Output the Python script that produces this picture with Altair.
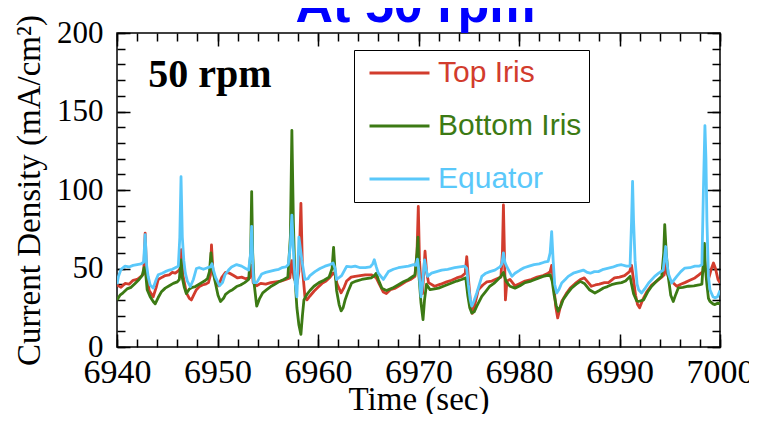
import altair as alt
import pandas as pd

TITLE = "At 50 rpm"
TITLE_T = 6969.7
TITLE_V = 207.0
SERIES = ["Top Iris", "Bottom Iris", "Equator"]
COLORS = ["#d23c2d", "#3c7a14", "#5ac8fa"]
X_DOMAIN = [6940, 7000]
Y_DOMAIN = [0, 200]
X_LABELS = [6940, 6950, 6960, 6970, 6980, 6990, 7000]
Y_LABELS = [0, 50, 100, 150, 200]
X_TICKS = [6940 + 2 * i for i in range(31)]
Y_TICKS = [10 * i for i in range(21)]
ANNOT = "50 rpm"
ANNOT_T = 6943.1
ANNOT_V = 165.6

TOP_IRIS = [(6940.0,39.5),(6940.4,38.0),(6940.8,40.5),(6941.2,40.0),(6941.6,42.5),(6942.0,43.0),(6942.4,45.0),(6942.65,46.5),(6942.8,72.5),(6942.95,47.0),(6943.2,36.0),(6943.6,32.0),(6943.9,38.0),(6944.1,43.0),(6944.5,44.5),(6944.8,45.5),(6945.2,46.0),(6945.5,47.5),(6945.8,47.0),(6946.1,48.5),(6946.3,50.0),(6946.4,62.0),(6946.55,46.0),(6946.9,34.5),(6947.2,31.0),(6947.4,30.0),(6947.7,34.0),(6947.9,36.5),(6948.2,38.5),(6948.5,39.5),(6948.8,40.0),(6949.1,41.0),(6949.3,46.0),(6949.4,65.0),(6949.55,48.0),(6949.8,42.0),(6950.1,39.0),(6950.4,44.0),(6950.8,47.5),(6951.2,47.0),(6951.6,45.5),(6952.0,44.0),(6952.4,44.5),(6952.8,43.5),(6953.2,44.0),(6953.4,52.0),(6953.55,41.0),(6953.9,39.0),(6954.3,40.5),(6954.8,40.0),(6955.3,41.0),(6955.8,41.5),(6956.3,42.0),(6956.8,43.0),(6957.2,44.0),(6957.4,55.0),(6957.6,44.0),(6957.9,40.0),(6958.1,48.0),(6958.3,91.5),(6958.45,50.0),(6958.7,32.0),(6958.9,30.0),(6959.2,32.5),(6959.6,35.5),(6960.0,38.0),(6960.4,40.5),(6960.8,42.0),(6961.2,44.5),(6961.5,47.0),(6961.7,46.0),(6961.9,40.0),(6962.3,34.5),(6962.6,38.0),(6962.85,42.0),(6963.3,44.5),(6963.7,45.0),(6964.2,45.5),(6964.7,46.0),(6965.3,46.0),(6965.8,44.0),(6966.1,40.0),(6966.5,35.0),(6966.8,34.0),(6967.2,36.5),(6967.7,37.5),(6968.2,39.5),(6968.7,41.5),(6969.2,43.0),(6969.65,45.0),(6969.85,60.0),(6969.98,89.5),(6970.1,55.0),(6970.25,40.0),(6970.4,34.0),(6970.65,61.0),(6970.8,48.0),(6971.0,41.0),(6971.6,38.7),(6972.2,40.0),(6972.8,41.5),(6973.3,42.5),(6973.8,44.0),(6974.3,45.0),(6974.65,47.0),(6974.8,57.5),(6974.95,45.0),(6975.15,30.0),(6975.35,21.5),(6975.6,27.0),(6975.95,36.5),(6976.4,39.5),(6976.8,41.5),(6977.3,42.0),(6977.8,43.5),(6978.2,44.5),(6978.35,60.0),(6978.45,90.5),(6978.55,60.0),(6978.65,30.0),(6978.8,42.0),(6979.1,43.0),(6979.6,39.0),(6980.1,40.5),(6980.6,42.0),(6981.2,43.0),(6981.8,44.5),(6982.4,45.5),(6982.9,47.0),(6983.1,48.0),(6983.25,52.0),(6983.45,40.0),(6983.65,26.0),(6983.85,18.5),(6984.05,24.0),(6984.25,29.0),(6984.7,34.0),(6985.1,37.5),(6985.6,40.5),(6986.1,43.0),(6986.5,44.0),(6986.9,41.0),(6987.2,38.7),(6987.6,39.5),(6988.0,40.0),(6988.5,41.0),(6988.9,41.0),(6989.5,44.0),(6990.0,44.5),(6990.5,45.5),(6991.0,48.0),(6991.2,52.0),(6991.35,45.0),(6991.6,33.0),(6991.8,27.0),(6992.0,25.0),(6992.3,30.0),(6992.7,35.0),(6993.2,39.5),(6993.7,42.0),(6994.2,44.5),(6994.45,46.0),(6994.6,55.0),(6994.75,47.0),(6995.0,42.0),(6995.4,40.5),(6995.7,38.7),(6996.1,40.0),(6996.5,41.0),(6997.0,42.5),(6997.5,44.0),(6997.9,46.0),(6998.3,48.0),(6998.45,56.0),(6998.6,48.0),(6998.85,43.0),(6999.1,49.0),(6999.35,53.5),(6999.55,50.0),(6999.8,43.0),(7000.0,41.0)]

BOTTOM_IRIS = [(6940.0,30.0),(6940.3,33.0),(6940.6,34.5),(6941.0,37.0),(6941.4,38.0),(6941.8,40.5),(6942.2,43.0),(6942.5,45.5),(6942.7,50.5),(6942.85,47.0),(6943.0,36.5),(6943.3,32.0),(6943.6,29.0),(6943.8,27.5),(6944.1,31.5),(6944.4,35.0),(6944.8,37.5),(6945.2,39.0),(6945.6,40.5),(6946.0,41.5),(6946.2,43.0),(6946.37,55.5),(6946.5,44.0),(6946.7,38.0),(6946.9,34.0),(6947.2,37.0),(6947.5,38.0),(6947.8,38.5),(6948.3,40.5),(6948.7,42.0),(6949.0,43.5),(6949.2,48.0),(6949.35,60.0),(6949.5,50.0),(6949.75,42.0),(6950.05,33.0),(6950.3,29.0),(6950.6,31.0),(6950.8,33.5),(6951.2,35.5),(6951.5,36.5),(6951.9,38.5),(6952.3,39.5),(6952.7,41.0),(6953.1,43.0),(6953.3,60.0),(6953.4,99.0),(6953.5,60.0),(6953.65,40.0),(6953.9,26.0),(6954.2,31.0),(6954.5,34.5),(6954.9,36.5),(6955.3,38.5),(6955.7,40.0),(6956.1,41.5),(6956.6,43.0),(6957.0,44.5),(6957.25,70.0),(6957.4,138.0),(6957.55,80.0),(6957.7,45.0),(6957.9,25.0),(6958.1,14.0),(6958.3,8.0),(6958.45,20.0),(6958.6,30.0),(6958.9,33.5),(6959.2,36.0),(6959.6,38.7),(6960.1,41.0),(6960.6,42.5),(6961.1,44.5),(6961.4,50.0),(6961.55,63.5),(6961.7,48.0),(6961.85,36.0),(6962.1,27.0),(6962.3,23.0),(6962.5,25.0),(6962.7,30.0),(6963.0,35.5),(6963.35,40.8),(6963.8,42.0),(6964.35,43.0),(6964.8,43.5),(6965.3,44.0),(6965.6,45.5),(6965.8,47.0),(6966.0,43.0),(6966.35,37.5),(6966.8,36.0),(6967.4,37.5),(6968.0,39.7),(6968.5,41.5),(6969.0,43.0),(6969.65,46.0),(6969.85,60.0),(6969.95,70.0),(6970.05,45.0),(6970.25,28.0),(6970.45,17.5),(6970.6,30.0),(6970.8,40.0),(6971.15,36.5),(6971.6,37.0),(6972.0,37.5),(6972.6,39.0),(6973.3,40.8),(6973.8,42.0),(6974.3,43.0),(6974.7,44.0),(6974.9,33.0),(6975.1,25.0),(6975.3,21.7),(6975.55,22.5),(6975.8,26.0),(6976.3,32.3),(6976.7,35.5),(6977.1,38.7),(6977.5,40.5),(6977.9,43.0),(6978.2,45.0),(6978.45,47.5),(6978.7,42.0),(6979.1,38.7),(6979.6,37.5),(6980.1,39.0),(6980.6,41.0),(6981.2,42.0),(6981.8,43.5),(6982.4,45.0),(6983.1,46.0),(6983.3,42.0),(6983.5,33.0),(6983.7,26.5),(6983.9,22.8),(6984.15,26.0),(6984.4,30.2),(6984.8,34.0),(6985.25,37.6),(6985.7,40.0),(6986.1,41.8),(6986.5,40.5),(6987.0,36.5),(6987.55,34.4),(6988.0,36.0),(6988.4,37.6),(6988.8,38.5),(6989.2,39.7),(6989.7,40.5),(6990.2,41.0),(6990.6,42.0),(6991.05,45.0),(6991.2,40.0),(6991.4,34.0),(6991.7,29.5),(6991.9,29.0),(6992.4,30.0),(6992.8,35.0),(6993.2,38.7),(6993.7,42.0),(6994.2,45.0),(6994.4,60.0),(6994.5,78.0),(6994.65,60.0),(6994.85,45.0),(6995.1,33.0),(6995.35,29.0),(6995.6,33.5),(6995.85,37.6),(6996.3,38.0),(6996.85,38.7),(6997.4,39.0),(6997.9,39.5),(6998.2,40.0),(6998.35,55.0),(6998.45,66.0),(6998.55,50.0),(6998.7,39.5),(6998.85,31.0),(6999.0,29.0),(6999.3,27.5),(6999.5,27.0),(6999.8,28.0),(7000.0,27.5)]

EQUATOR = [(6940.0,40.0),(6940.15,45.0),(6940.4,49.5),(6940.8,51.5),(6941.2,51.0),(6941.6,52.0),(6942.0,52.5),(6942.4,53.0),(6942.65,54.0),(6942.8,71.5),(6942.95,52.0),(6943.1,45.0),(6943.3,39.5),(6943.6,37.5),(6943.9,43.0),(6944.1,46.0),(6944.5,47.0),(6944.8,48.0),(6945.2,49.0),(6945.5,49.5),(6945.8,50.5),(6946.1,51.5),(6946.25,70.0),(6946.37,108.5),(6946.5,70.0),(6946.65,55.0),(6946.8,47.0),(6947.0,42.0),(6947.3,38.5),(6947.6,43.0),(6947.9,50.0),(6948.2,50.5),(6948.6,49.5),(6949.0,50.5),(6949.3,51.0),(6949.45,53.0),(6949.6,49.0),(6949.8,44.5),(6950.2,39.0),(6950.5,41.0),(6950.75,46.0),(6951.1,49.0),(6951.4,51.0),(6951.9,52.5),(6952.4,51.5),(6952.8,50.0),(6953.1,49.0),(6953.3,60.0),(6953.4,76.8),(6953.5,55.0),(6953.6,41.0),(6953.9,41.0),(6954.4,46.5),(6954.8,47.5),(6955.1,48.0),(6955.7,49.0),(6956.1,49.5),(6956.4,50.5),(6956.8,51.0),(6957.05,52.5),(6957.25,65.0),(6957.4,84.0),(6957.5,70.0),(6957.6,55.0),(6957.75,40.0),(6957.9,32.0),(6958.0,50.0),(6958.1,70.0),(6958.2,65.0),(6958.4,55.0),(6958.7,43.0),(6959.0,43.5),(6959.2,45.5),(6959.7,48.0),(6960.2,50.0),(6960.7,51.5),(6961.2,52.5),(6961.5,53.5),(6961.7,50.0),(6961.85,43.0),(6962.35,45.5),(6962.85,51.4),(6963.3,51.0),(6963.7,51.5),(6964.2,50.5),(6964.7,50.5),(6965.2,51.0),(6965.45,53.0),(6965.6,55.6),(6965.8,51.0),(6966.0,47.0),(6966.5,43.0),(6967.0,48.0),(6967.5,49.5),(6968.0,50.5),(6968.5,51.0),(6969.0,51.5),(6969.5,52.5),(6969.75,52.0),(6969.9,56.0),(6970.05,48.0),(6970.25,32.0),(6970.4,40.0),(6970.6,55.5),(6970.75,50.0),(6970.9,45.0),(6971.3,47.0),(6971.8,48.0),(6972.3,49.0),(6972.9,49.5),(6973.6,50.5),(6974.1,51.0),(6974.6,51.5),(6974.8,50.0),(6974.95,40.0),(6975.15,30.0),(6975.3,26.0),(6975.5,29.0),(6975.8,34.4),(6976.3,45.0),(6976.7,47.0),(6977.1,48.0),(6977.6,49.0),(6978.1,51.0),(6978.3,53.0),(6978.45,60.0),(6978.6,54.0),(6978.8,51.0),(6979.3,45.0),(6979.6,47.0),(6980.1,49.0),(6980.5,50.5),(6981.0,51.5),(6981.5,52.5),(6982.0,53.0),(6982.5,54.0),(6982.9,54.5),(6983.1,60.0),(6983.25,73.5),(6983.4,55.0),(6983.55,40.0),(6983.75,34.4),(6984.0,37.0),(6984.25,40.8),(6984.6,43.0),(6984.9,45.0),(6985.4,47.0),(6985.9,48.0),(6986.4,49.0),(6986.8,47.5),(6987.1,47.0),(6987.5,48.0),(6987.9,48.0),(6988.4,49.5),(6988.9,50.3),(6989.3,50.8),(6989.8,52.0),(6990.2,52.4),(6990.7,51.5),(6991.05,51.5),(6991.2,80.0),(6991.3,105.5),(6991.4,80.0),(6991.55,55.0),(6991.75,40.0),(6991.9,36.5),(6992.2,34.4),(6992.5,37.0),(6992.9,40.8),(6993.5,45.0),(6993.9,47.0),(6994.35,49.0),(6994.5,58.0),(6994.6,64.0),(6994.7,55.0),(6994.85,47.0),(6995.2,40.8),(6995.7,45.0),(6996.1,48.0),(6996.5,50.3),(6997.0,50.5),(6997.5,51.5),(6997.9,51.5),(6998.2,52.4),(6998.35,100.0),(6998.5,141.0),(6998.6,120.0),(6998.7,80.0),(6998.85,45.0),(6999.0,36.5),(6999.3,32.0),(6999.5,31.3),(6999.75,32.0),(7000.0,36.0)]

rows = []
for name, pts in zip(SERIES, [TOP_IRIS, BOTTOM_IRIS, EQUATOR]):
    for t, v in pts:
        rows.append({"series": name, "t": t, "v": v})
df = pd.DataFrame(rows)
ann_df = pd.DataFrame({"t": [ANNOT_T], "v": [ANNOT_V], "label": [ANNOT]})
title_df = pd.DataFrame({"t": [TITLE_T], "v": [TITLE_V], "label": [TITLE]})

W, H = 603, 314
SERIF = "Liberation Serif"
SANS = "Liberation Sans"

xs = alt.Scale(domain=X_DOMAIN, nice=False, zero=False)
ys = alt.Scale(domain=Y_DOMAIN, nice=False, zero=False)

color_expr = "".join(f"datum.label === '{s}' ? '{c}' : " for s, c in zip(SERIES[:-1], COLORS[:-1])) + f"'{COLORS[-1]}'"


def tick_axis(orient, offset, values, size):
    return alt.Axis(orient=orient, offset=offset, values=values, labels=False, domain=False,
                    grid=False, title=None, ticks=True, tickSize=size, tickColor="black",
                    tickWidth=1.5)


lines = alt.Chart(df).mark_line(strokeWidth=2.8, strokeJoin="round", clip=True).encode(
    x=alt.X("t:Q", scale=xs, axis=alt.Axis(
        orient="bottom", values=X_LABELS, ticks=False, tickSize=0, domain=False, grid=False,
        format="d", labelFont=SERIF, labelFontSize=34, labelColor="black", labelPadding=8,
        labelFlush=False, title="Time (sec)", titleFont=SERIF, titleFontSize=33,
        titleFontWeight="normal", titleColor="black", titlePadding=-6)),
    y=alt.Y("v:Q", scale=ys, axis=alt.Axis(
        orient="left", values=Y_LABELS, ticks=False, tickSize=0, domain=False, grid=False,
        labelFont=SERIF, labelFontSize=31, labelColor="black", labelPadding=14,
        labelFlush=False, title="Current Density (mA/cm²)", titleFont=SERIF, titleFontSize=33,
        titleFontWeight="normal", titleColor="black", titlePadding=10)),
    color=alt.Color("series:N", scale=alt.Scale(domain=SERIES, range=COLORS),
                    legend=alt.Legend(
                        title=None, orient="none", legendX=237, legendY=17, direction="vertical",
                        strokeColor="black", fillColor="white", padding=7,
                        symbolType="stroke", symbolSize=3600, symbolStrokeWidth=3,
                        symbolOffset=7, labelFont=SANS, labelFontSize=30, labelOffset=7,
                        labelLimit=400, labelColor=alt.ExprRef(color_expr),
                        rowPadding=21, clipHeight=32)),
)


def tick_layer(x_orient, y_orient, x_vals, y_vals, size):
    return alt.Chart(df).mark_point(opacity=0).encode(
        x=alt.X("t:Q", scale=xs, axis=tick_axis(x_orient, -H, x_vals, size)),
        y=alt.Y("v:Q", scale=ys, axis=tick_axis(y_orient, -W, y_vals, size)),
    )


minor_a = tick_layer("top", "right", X_TICKS, Y_TICKS, 8)
minor_b = tick_layer("bottom", "left", X_TICKS, Y_TICKS, 8)
major_a = tick_layer("top", "right", X_LABELS, Y_LABELS, 13)
major_b = tick_layer("bottom", "left", X_LABELS, Y_LABELS, 13)

ann = alt.Chart(ann_df).mark_text(font=SERIF, fontSize=40, fontWeight="bold", align="left",
                                  baseline="alphabetic", color="black").encode(
    x=alt.X("t:Q", scale=xs, axis=None),
    y=alt.Y("v:Q", scale=ys, axis=None),
    text="label:N",
)

title_mark = alt.Chart(title_df).mark_text(font=SANS, fontSize=52, fontWeight="bold",
                                           align="center", baseline="alphabetic",
                                           color="#0000ff").encode(
    x=alt.X("t:Q", scale=xs, axis=None),
    y=alt.Y("v:Q", scale=ys, axis=None),
    text="label:N",
)

chart = alt.layer(lines, minor_a, minor_b, major_a, major_b, ann, title_mark).resolve_axis(
    x="independent", y="independent"
).properties(
    width=W, height=H,
    autosize=alt.AutoSizeParams(type="none"),
    padding={"left": 109, "top": 25, "right": 29, "bottom": 67},
).configure_view(stroke="black", strokeWidth=1.5)

chart.save("out.html", embed_options={"renderer": "svg", "actions": False})
